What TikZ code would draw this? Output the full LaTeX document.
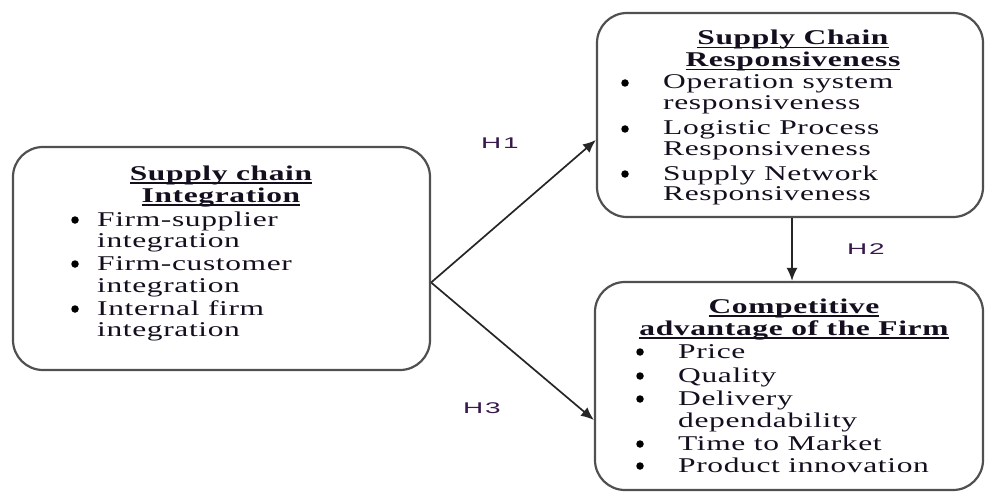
\documentclass[tikz,border=0pt]{standalone}
\usepackage{fontspec}
\usetikzlibrary{arrows.meta,calc}

% Wide serif used for every box text, wide sans for the hypothesis tags
\newfontfamily\boxfont[FakeStretch=1.5,LetterSpace=3]{Liberation Serif}
\newfontfamily\hypfont[FakeStretch=1.8,LetterSpace=12]{Liberation Sans}

\definecolor{edge}{RGB}{80,80,80}
\definecolor{ink}{RGB}{20,14,30}
\definecolor{hypc}{RGB}{55,25,75}

% Heading with a rule at a fixed depth under the baseline
\newsavebox\hdbox
\newcommand\headrule[1]{\sbox\hdbox{#1}\rlap{\rule[-3.5pt]{\wd\hdbox}{1.3pt}}\usebox\hdbox}

\tikzset{
  panel/.style={draw=edge, line width=2.2pt, rounded corners=30pt, inner sep=0pt},
  itemline/.style={font=\boxfont\fontsize{21}{22}\selectfont, text=ink, inner sep=0pt, anchor=base west},
  bulletdot/.style={circle, fill=black, inner sep=0pt, minimum size=7.5pt},
  headline/.style={font=\boxfont\bfseries\fontsize{21}{22}\selectfont, text=ink, inner sep=0pt, anchor=base},
  link/.style={draw=black!85, line width=1.7pt, -{Latex[length=13pt,width=11pt]}},
  hyp/.style={font=\hypfont\fontsize{15.5}{16}\selectfont, text=hypc, inner sep=0pt, anchor=base}
}

\begin{document}
\begin{tikzpicture}[x=1pt,y=-1pt]
\useasboundingbox (0,0) rectangle (985,492);

% Panels
\node[panel, minimum width=417pt, minimum height=223pt] (sci) at (221.5,258.5) {};
\node[panel, minimum width=386pt, minimum height=204pt] (scr) at (790,115) {};
\node[panel, minimum width=388pt, minimum height=208pt] (caf) at (789,386) {};

% Supply chain integration
\node[headline] (sciA) at (221,180) {\headrule{Supply chain}};
\node[headline] (sciB) at (221,202) {\headrule{Integration}};
\node[bulletdot] (sciD1) at (75,220) {};
\node[bulletdot] (sciD2) at (75,264) {};
\node[bulletdot] (sciD3) at (75,309) {};
\node[itemline] (sciL1) at (97,226) {Firm-supplier};
\node[itemline] (sciL2) at (97,247) {integration};
\node[itemline] (sciL3) at (97,270) {Firm-customer};
\node[itemline] (sciL4) at (97,292) {integration};
\node[itemline] (sciL5) at (97,315) {Internal firm};
\node[itemline] (sciL6) at (97,336) {integration};

% Supply chain responsiveness
\node[headline] (scrA) at (793,45) {\headrule{Supply Chain}};
\node[headline] (scrB) at (793,67) {\headrule{Responsiveness}};
\node[bulletdot] (scrD1) at (625,83) {};
\node[bulletdot] (scrD2) at (625,129) {};
\node[bulletdot] (scrD3) at (625,174) {};
\node[itemline] (scrL1) at (663,89) {Operation system};
\node[itemline] (scrL2) at (663,110) {responsiveness};
\node[itemline] (scrL3) at (663,135) {Logistic Process};
\node[itemline] (scrL4) at (663,155) {Responsiveness};
\node[itemline] (scrL5) at (663,180) {Supply Network};
\node[itemline] (scrL6) at (663,200) {Responsiveness};

% Competitive advantage
\node[headline] (cafA) at (794,313) {\headrule{Competitive}};
\node[headline] (cafB) at (794,335) {\headrule{advantage of the Firm}};
\node[bulletdot] (cafD1) at (640,352) {};
\node[bulletdot] (cafD2) at (640,376) {};
\node[bulletdot] (cafD3) at (640,399) {};
\node[bulletdot] (cafD4) at (640,444) {};
\node[bulletdot] (cafD5) at (640,466) {};
\node[itemline] (cafL1) at (678,358) {Price};
\node[itemline] (cafL2) at (678,382) {Quality};
\node[itemline] (cafL3) at (678,405) {Delivery};
\node[itemline] (cafL4) at (678,427) {dependability};
\node[itemline] (cafL5) at (678,450) {Time to Market};
\node[itemline] (cafL6) at (678,472) {Product innovation};

% Hypothesis links
\coordinate (src) at ($(sci.east)+(0,24)$);
\coordinate (h1end) at ($(scr.west)+(0,25)$);
\coordinate (h3end) at ($(caf.west)+(0,34)$);
\coordinate (h2start) at ($(scr.south)+(2,0)$);
\coordinate (h2end) at (h2start |- caf.north);
\draw[link] (src) -- (h1end);
\draw[link] (src) -- (h3end);
\draw[link] (h2start) -- (h2end);

\node[hyp] (h1) at (500,149) {H1};
\node[hyp] (h2) at (866,254) {H2};
\node[hyp] (h3) at (482,413) {H3};
\end{tikzpicture}
\end{document}
